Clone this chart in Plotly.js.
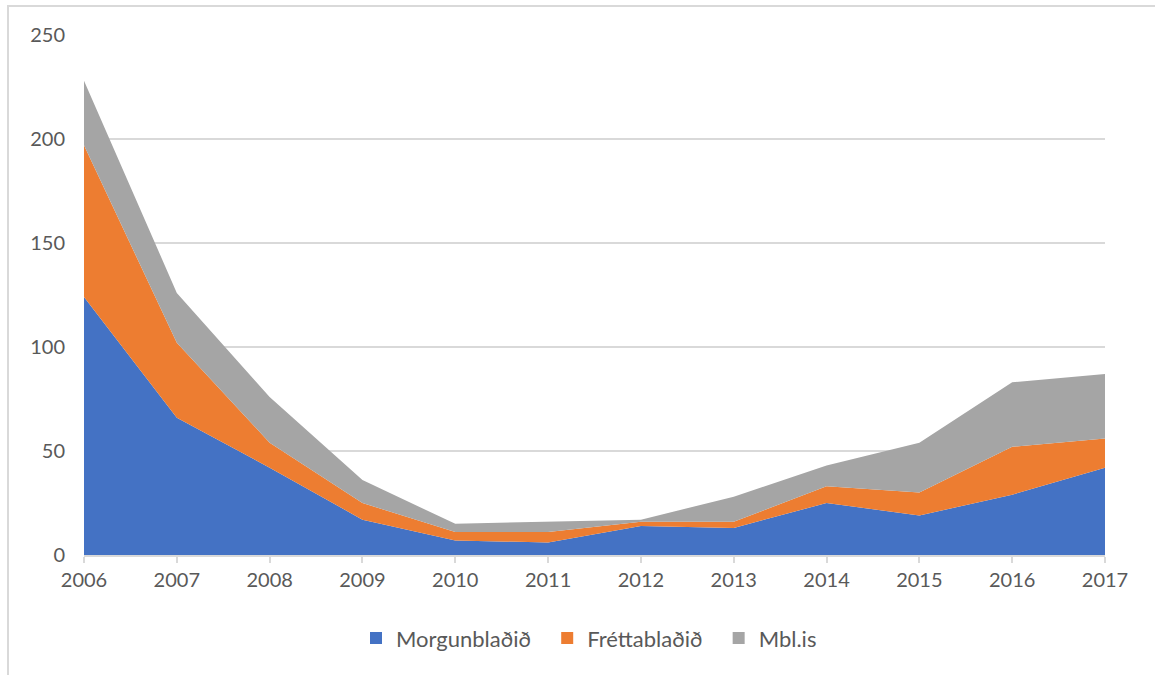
<!DOCTYPE html>
<html>
<head>
<meta charset="utf-8">
<script src="https://cdn.plot.ly/plotly-3.0.1.min.js"></script>
<style>
  html, body { margin: 0; padding: 0; background: #fff; }
  #wrap { position: relative; width: 1155px; height: 675px; overflow: hidden; }
  #frame { position: absolute; left: 7px; top: 5px; width: 1160px; height: 680px;
           border-left: 2px solid #d9d9d9; border-top: 2px solid #d9d9d9; box-sizing: border-box; }
  #chart { position: absolute; left: 0; top: 0; width: 1155px; height: 675px; }
</style>
</head>
<body>
<div id="wrap">
  <div id="frame"></div>
  <div id="chart"></div>
</div>
<script>
const years = [2006, 2007, 2008, 2009, 2010, 2011, 2012, 2013, 2014, 2015, 2016, 2017];
const seriesNames = ['Morgunblaðið', 'Fréttablaðið', 'Mbl.is'];
const morgunbladid = [124, 66, 42, 17, 7, 6, 14, 13, 25, 19, 29, 42];
const frettabladid = [73, 36, 12, 8, 4, 5, 2, 3, 8, 11, 23, 14];
const mblis = [31, 24, 22, 11, 4, 5, 1, 12, 10, 24, 31, 31];
const yTicks = [0, 50, 100, 150, 200, 250];

const colors = ['#4472C4', '#ED7D31', '#A5A5A5'];
const values = [morgunbladid, frettabladid, mblis];

const areaTraces = values.map((v, i) => ({
  type: 'scatter',
  mode: 'lines',
  x: years,
  y: v,
  name: seriesNames[i],
  stackgroup: 'one',
  line: { width: 0, color: colors[i] },
  fillcolor: colors[i],
  showlegend: false,
  hoverinfo: 'x+y+name'
}));

// legend-only square swatches
const legendTraces = seriesNames.map((n, i) => ({
  type: 'scatter',
  mode: 'markers',
  x: [null],
  y: [null],
  name: n + '\u00a0\u00a0',
  marker: { symbol: 'square', size: 12, color: colors[i] },
  showlegend: true,
  hoverinfo: 'skip'
}));

const layout = {
  width: 1155,
  height: 675,
  paper_bgcolor: 'rgba(0,0,0,0)',
  plot_bgcolor: 'rgba(0,0,0,0)',
  margin: { l: 84, r: 50, t: 35, b: 120 },
  font: { family: 'Lato, "Open Sans", sans-serif', size: 20, color: '#595959' },
  showlegend: true,
  legend: {
    orientation: 'h',
    x: 0.5, xanchor: 'center',
    y: -0.16, yanchor: 'middle',
    traceorder: 'normal',
    font: { size: 22, color: '#595959' },
    itemwidth: 30
  },
  xaxis: {
    range: [2006, 2017],
    tickvals: years,
    ticktext: years.map(String),
    ticks: 'outside',
    ticklen: 6,
    tickwidth: 2,
    tickcolor: '#d9d9d9',
    showline: true,
    linecolor: '#d9d9d9',
    linewidth: 2,
    showgrid: false,
    zeroline: false,
    fixedrange: true
  },
  yaxis: {
    range: [0, 250],
    tickvals: yTicks,
    ticktext: yTicks.map(String),
    ticks: 'outside',
    ticklen: 14,
    tickcolor: 'rgba(0,0,0,0)',
    showgrid: true,
    gridcolor: '#d9d9d9',
    gridwidth: 2,
    zeroline: false,
    showline: false,
    fixedrange: true
  }
};

Plotly.newPlot('chart', areaTraces.concat(legendTraces), layout, { displayModeBar: false, staticPlot: true });
</script>
</body>
</html>
